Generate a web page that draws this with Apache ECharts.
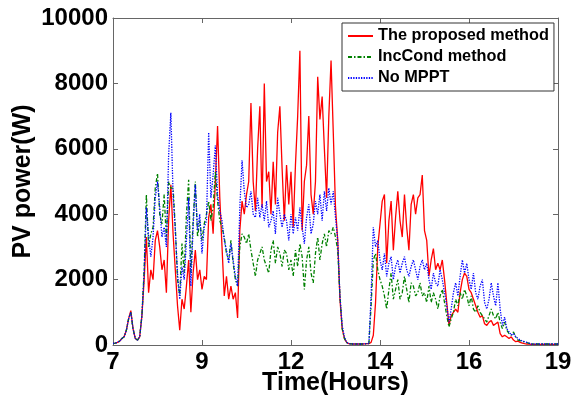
<!DOCTYPE html>
<html>
<head>
<meta charset="utf-8">
<script src="https://cdn.jsdelivr.net/npm/echarts@6/dist/echarts.min.js"></script>
<style>html,body{margin:0;padding:0;background:#fff;}#chart{width:571px;height:400px;}</style>
</head>
<body>
<div id="chart"></div>
<script>
const tickLabels = ['7', '9', '12', '14', '16', '19'];
const sampleStep = 0.025; // distance between samples, in tick-interval units
const seriesNames = ['The proposed method', 'IncCond method', 'No MPPT'];

const proposed = [
50,60,80,120,200,250,450,800,1050,500,
200,150,250,900,2000,3300,1600,2300,2000,3200,
3500,3000,2300,2600,1600,3800,4900,3400,2300,1200,
450,1400,1100,1800,2600,1000,2200,2900,2000,2300,
1700,2100,2000,3900,4300,3400,5000,6700,4500,3000,
1500,2100,1400,1800,1400,1600,830,3500,4400,4000,
4600,5000,7400,5000,4100,6000,7300,4200,8000,5000,
5300,4000,5600,4300,6500,7300,5400,3800,5500,4300,
5300,3600,5500,7000,9000,3500,5000,5500,7000,4600,
4000,5000,8200,6900,7600,6000,4500,7000,8700,6500,
4200,3200,1400,500,200,80,40,35,30,30,
30,30,30,35,40,40,80,300,1300,3000,
3700,4400,4600,2500,3800,4400,2900,3900,4700,3800,
3300,4600,3600,2900,4300,4600,4000,4500,4600,5200,
3500,3200,2100,2600,2950,2300,2500,2300,2600,2000,
1300,600,900,1000,1100,1000,1600,2000,2200,2100,
1700,1600,1400,1200,1000,850,900,650,600,700,
750,600,650,700,350,250,300,250,200,250,
150,100,120,80,60,40,30,25,20,20,
20,20,20,20,20,20,20,20,20,20,
20
];
const incCond = [
50,60,80,120,200,250,450,800,1000,500,
200,150,250,900,2300,4600,3000,3400,3600,4800,
5250,4000,3700,4600,3200,5000,4800,4800,3600,2000,
1500,3100,2200,4000,5050,2200,3800,5000,3300,3800,
3200,3700,4000,4400,3800,4200,5300,4400,3800,3600,
3300,2800,2600,3200,2500,2000,1800,3000,3400,3300,
3100,3400,2900,2500,2100,2600,2800,3000,2600,2400,
2200,2900,3200,2500,3000,2800,2400,2900,2800,2300,
2600,2100,2900,2400,3100,2700,1700,2600,3000,2200,
1900,2800,3300,2600,3100,3400,3000,3500,3400,3600,
3300,2900,1500,500,200,80,40,35,30,30,
30,30,30,35,40,40,1200,2600,2800,2300,
2000,1800,1500,1100,1700,2200,1400,1700,2000,1400,
1600,2100,1700,1300,1900,1800,1500,1600,1900,1500,
1600,1300,1800,1300,1600,1400,1100,1500,1700,1300,
900,550,800,1000,1400,1200,1600,1400,1700,1500,
1200,1500,1100,1000,1200,1000,900,800,700,900,
1100,900,800,1000,700,500,700,450,350,300,
400,250,150,130,120,90,70,50,30,30,
30,30,30,30,30,30,30,30,30,30,
30
];
const noMppt = [
50,60,80,120,200,250,450,800,1000,500,
200,150,250,900,2200,4200,3300,2700,3300,4500,
5000,4200,3300,3600,3000,5800,7100,4600,3500,2200,
1400,2400,2000,3200,4500,1800,3600,4900,3500,4000,
2800,3600,3800,6500,4500,5200,6100,4600,4100,3800,
3200,2900,2500,3100,2600,2100,1800,4200,5650,4700,
4200,4300,4700,4000,3900,4500,3900,4300,3800,4400,
3600,3800,4100,3400,4500,4000,3600,4000,3800,3200,
4000,3400,3900,3500,4200,3600,3100,3900,4300,3400,
3700,4400,4000,4600,3800,4700,4100,4800,4300,4700,
3900,3200,1500,600,250,80,40,35,30,30,
30,30,30,35,40,40,1500,3600,3000,3200,
2600,2300,2800,2100,2500,2700,2000,2400,2600,2200,
2500,2700,2300,2100,2400,2600,2300,2000,2400,2600,
2300,2500,2000,1700,2200,1900,1800,2300,2000,1600,
1200,700,1100,1600,1900,1500,2100,2600,2200,2500,
2000,1700,2200,1600,1400,1800,2000,1300,1100,1400,
1900,1500,1200,1900,1100,600,850,500,400,300,
350,250,200,150,120,100,80,60,30,30,
30,30,30,30,30,30,30,30,30,30,
30
];

const toPairs = arr => arr.map((v, i) => [i * sampleStep, v]);
const FONT = 'Liberation Sans, Arial, sans-serif';
const axisGray = '#666';

const chart = echarts.init(document.getElementById('chart'), null, {renderer: 'canvas'});
const baseX = {
  type: 'value', min: 0, max: 5, interval: 1,
  axisLine: {show: true, onZero: false, lineStyle: {color: axisGray, width: 1}},
  axisTick: {show: true, inside: true, length: 5, lineStyle: {color: axisGray}},
  splitLine: {show: false}
};
const baseY = {
  type: 'value', min: 0, max: 10000, interval: 2000,
  axisLine: {show: true, onZero: false, lineStyle: {color: axisGray, width: 1}},
  axisTick: {show: true, inside: true, length: 5, lineStyle: {color: axisGray}},
  splitLine: {show: false}
};
chart.setOption({
  animation: false,
  backgroundColor: '#fff',
  grid: {left: 113, right: 13, top: 18, bottom: 55, containLabel: false, outerBoundsMode: 'none'},
  legend: {
    orient: 'vertical', left: 342, top: 23,
    padding: [5, 5, 5, 5], itemGap: 5, itemWidth: 25, itemHeight: 14,
    backgroundColor: '#fff', borderColor: '#333', borderWidth: 1, borderRadius: 0,
    itemStyle: {opacity: 0},
    textStyle: {fontFamily: FONT, fontSize: 16.3, fontWeight: 'bold', color: '#000'},
    data: seriesNames
  },
  xAxis: [
    Object.assign({}, baseX, {
      position: 'bottom',
      axisLabel: {formatter: v => tickLabels[Math.round(v)], fontFamily: FONT, fontSize: 24, fontWeight: 'bold', color: '#000', margin: 5, showMinLabel: true, showMaxLabel: true},
      name: 'Time(Hours)', nameLocation: 'middle', nameGap: 26, nameMoveOverlap: false,
      nameTextStyle: {fontFamily: FONT, fontSize: 25, fontWeight: 'bold', color: '#000'}
    }),
    Object.assign({}, baseX, {position: 'top', axisLabel: {show: false}})
  ],
  yAxis: [
    Object.assign({}, baseY, {
      position: 'left',
      axisLabel: {formatter: v => String(v), fontFamily: FONT, fontSize: 24, fontWeight: 'bold', color: '#000', margin: 5},
      name: 'PV power(W)', nameLocation: 'middle', nameGap: 77, nameRotate: 90, nameMoveOverlap: false,
      nameTextStyle: {fontFamily: FONT, fontSize: 25, fontWeight: 'bold', color: '#000'}
    }),
    Object.assign({}, baseY, {position: 'right', axisLabel: {show: false}})
  ],
  series: [
    {name: seriesNames[0], type: 'line', data: toPairs(proposed), showSymbol: false, symbol: 'none',
     lineStyle: {color: '#ff0000', width: 1.3, type: 'solid'}, itemStyle: {color: '#ff0000'}, z: 2},
    {name: seriesNames[1], type: 'line', data: toPairs(incCond), showSymbol: false, symbol: 'none',
     lineStyle: {color: '#008000', width: 1.3, type: [4, 2, 1.5, 2]}, itemStyle: {color: '#008000'}, z: 3},
    {name: seriesNames[2], type: 'line', data: toPairs(noMppt), showSymbol: false, symbol: 'none',
     lineStyle: {color: '#0000ff', width: 1.3, type: [1.3, 1.3]}, itemStyle: {color: '#0000ff'}, z: 4}
  ]
});
</script>
</body>
</html>
